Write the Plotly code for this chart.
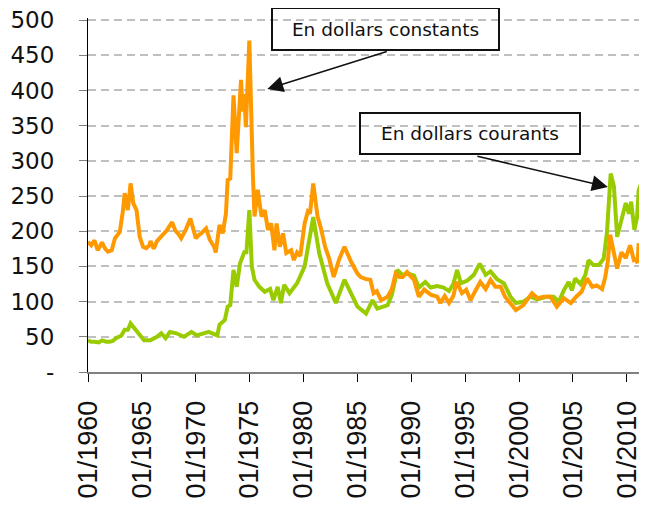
import plotly.graph_objects as go

# prix en dollars constants (orange) et courants (vert)
const_years = [1960.0, 1960.3, 1960.6, 1960.9, 1961.3, 1961.6, 1961.85, 1962.2, 1962.5, 1962.95,
               1963.25, 1963.4, 1963.7, 1963.95, 1964.2, 1964.5, 1964.8, 1965.1, 1965.4, 1965.7,
               1965.8, 1966.1, 1966.4, 1966.95, 1967.3, 1967.8, 1968.1, 1968.4, 1968.65, 1969.1,
               1969.5, 1969.7, 1970.0, 1970.3, 1970.5, 1970.96, 1971.3, 1971.7, 1971.85, 1972.2,
               1972.5, 1972.8, 1972.96, 1973.2, 1973.5, 1973.8, 1974.2, 1974.35, 1974.5, 1974.65,
               1974.97, 1975.3, 1975.45, 1975.75, 1976.1, 1976.4, 1976.7, 1977.0, 1977.3, 1977.5,
               1977.8, 1978.1, 1978.4, 1978.85, 1979.1, 1979.4, 1979.7, 1980.1, 1980.4, 1980.6,
               1980.9, 1981.3, 1981.6, 1982.0, 1982.4, 1982.8, 1983.3, 1983.8, 1984.4, 1985.0,
               1985.3, 1985.8, 1986.2, 1986.5, 1986.8, 1987.2, 1987.8, 1988.2, 1988.55, 1988.9,
               1989.2, 1989.6, 1990.25, 1990.7, 1991.2, 1991.8, 1992.4, 1992.7, 1993.1, 1993.5,
               1993.9, 1994.2, 1994.7, 1995.1, 1995.5, 1996.0, 1996.4, 1996.9, 1997.35, 1997.8,
               1998.3, 1998.7, 1999.2, 1999.7, 2000.4, 2001.2, 2001.7, 2002.3, 2002.9, 2003.5,
               2004.15, 2004.8, 2005.3, 2005.8, 2006.3, 2006.8, 2007.2, 2007.7, 2008.0, 2008.25,
               2008.45, 2008.8, 2009.1, 2009.5, 2009.9, 2010.3, 2010.65, 2010.8, 2011.0, 2011.1]
const_values = [185, 180, 187, 173, 184, 175, 171, 173, 190, 199,
                230, 254, 230, 268, 240, 230, 192, 178, 176, 180,
                186, 175, 186, 195, 201, 213, 201, 196, 190, 203,
                218, 207, 190, 195, 197, 204, 188, 178, 170, 209,
                197, 225, 273, 275, 393, 311, 415, 370, 395, 348,
                471, 280, 221, 259, 221, 230, 202, 211, 173, 211,
                178, 197, 169, 173, 159, 170, 165, 211, 228, 225,
                268, 221, 205, 178, 160, 135, 160, 178, 157, 140,
                135, 132, 131, 112, 115, 102, 107, 118, 140, 135,
                135, 142, 131, 107, 117, 110, 107, 98, 108, 98,
                108, 128, 112, 117, 102, 117, 128, 118, 131, 121,
                121, 107, 98, 88, 95, 112, 105, 107, 107, 93,
                105, 98, 107, 114, 133, 121, 123, 118, 135, 159,
                195, 170, 147, 170, 162, 180, 159, 160, 155, 183]

curr_years = [1960.0, 1960.3, 1960.6, 1961.0, 1961.3, 1961.7, 1962.0, 1962.3, 1962.6, 1963.1,
              1963.4, 1963.7, 1963.95, 1964.4, 1964.9, 1965.2, 1965.8, 1966.4, 1966.8, 1967.2,
              1967.6, 1968.2, 1968.9, 1969.6, 1970.1, 1970.7, 1971.2, 1972.0, 1972.2, 1972.7,
              1972.96, 1973.2, 1973.5, 1973.8, 1974.1, 1974.5, 1974.7, 1974.97, 1975.2, 1975.45,
              1975.9, 1976.4, 1976.9, 1977.2, 1977.6, 1977.9, 1978.2, 1978.7, 1979.1, 1979.4,
              1980.1, 1980.5, 1980.9, 1981.45, 1982.2, 1983.0, 1983.8, 1984.4, 1985.0, 1985.8,
              1986.4, 1986.85, 1987.8, 1988.2, 1988.7, 1989.2, 1989.7, 1990.25, 1990.7, 1991.3,
              1991.8, 1992.4, 1993.0, 1993.5, 1993.9, 1994.25, 1994.6, 1995.2, 1995.8, 1996.35,
              1996.9, 1997.35, 1997.95, 1998.6, 1999.0, 1999.2, 1999.7, 2000.4, 2001.05, 2001.7,
              2002.6, 2003.2, 2003.7, 2004.15, 2004.6, 2004.9, 2005.2, 2005.7, 2006.15, 2006.45,
              2006.9, 2007.4, 2007.85, 2008.15, 2008.5, 2008.8, 2009.1, 2009.6, 2009.9, 2010.2,
              2010.4, 2010.7, 2010.95, 2011.1, 2011.45]
curr_values = [45, 43, 43, 42, 45, 43, 43, 44, 48, 52,
               60, 60, 69, 60, 52, 45, 45, 50, 55, 48,
               57, 55, 50, 57, 52, 55, 57, 52, 67, 74,
               93, 95, 145, 121, 154, 170, 170, 230, 150, 131,
               121, 114, 118, 102, 121, 98, 124, 112, 121, 126,
               150, 187, 220, 169, 126, 98, 131, 112, 93, 83,
               102, 90, 95, 110, 145, 138, 140, 137, 120, 128,
               120, 122, 120, 115, 125, 145, 126, 130, 138, 154,
               138, 143, 132, 126, 111, 107, 98, 100, 107, 103,
               107, 107, 100, 116, 128, 116, 133, 125, 138, 159,
               152, 152, 161, 197, 282, 264, 192, 220, 240, 225,
               242, 202, 220, 258, 273]

x_tick_years = [1960, 1965, 1970, 1975, 1980, 1985, 1990, 1995, 2000, 2005, 2010]
x_tick_labels = ["01/1960", "01/1965", "01/1970", "01/1975", "01/1980", "01/1985",
                 "01/1990", "01/1995", "01/2000", "01/2005", "01/2010"]
y_tick_values = [0, 50, 100, 150, 200, 250, 300, 350, 400, 450, 500]
y_tick_labels = ["-", "50", "100", "150", "200", "250", "300", "350", "400", "450", "500"]

fig = go.Figure()
fig.add_trace(go.Scatter(x=curr_years, y=curr_values, mode="lines", name="En dollars courants",
                         line=dict(color="#99CC00", width=4)))
fig.add_trace(go.Scatter(x=const_years, y=const_values, mode="lines", name="En dollars constants",
                         line=dict(color="#FF9900", width=4)))

box_font = dict(family="DejaVu Sans", size=18.5, color="#111111")
fig.add_annotation(x=1987.6, y=487, xref="x", yref="y", text="En dollars constants",
                   showarrow=False, font=box_font, width=225, height=40,
                   bordercolor="#111111", borderwidth=2, borderpad=0)
fig.add_annotation(x=1995.44, y=339, xref="x", yref="y", text="En dollars courants",
                   showarrow=False, font=box_font, width=218, height=39,
                   bordercolor="#111111", borderwidth=2, borderpad=0)
# flèches
fig.add_annotation(x=1976.64, y=402, xref="x", yref="y", text="", showarrow=True,
                   ax=121, ay=-38, arrowhead=2, arrowsize=2, arrowwidth=1.6, arrowcolor="#111111")
fig.add_annotation(x=2008.24, y=263, xref="x", yref="y", text="", showarrow=True,
                   ax=-132, ay=-31, arrowhead=2, arrowsize=2, arrowwidth=1.6, arrowcolor="#111111")

fig.update_xaxes(range=[1960, 2011.5], tickvals=x_tick_years, ticktext=x_tick_labels,
                 tickangle=-90, ticks="outside", ticklen=8, tickcolor="#000000",
                 tickfont=dict(family="Liberation Sans", size=27, color="#111111"),
                 showline=True, linecolor="#808080", linewidth=2, showgrid=False, zeroline=False,
                 ticklabelstandoff=8, automargin=False, ticklabeloverflow="allow")
fig.update_yaxes(range=[0, 503], tickvals=y_tick_values, ticktext=y_tick_labels,
                 ticks="outside", ticklen=8, tickcolor="#808080",
                 tickfont=dict(family="DejaVu Sans", size=23, color="#111111"),
                 showline=True, linecolor="#000000", linewidth=1.2,
                 showgrid=True, gridcolor="#C0C0C0", gridwidth=1.5, griddash="8px,5px",
                 zeroline=False, ticklabelstandoff=20, automargin=False,
                 ticklabeloverflow="allow")

# la page ajoute 8 px de marge autour du graphique
fig.update_layout(width=639, height=501, margin=dict(l=80, r=4, t=10, b=137),
                  plot_bgcolor="white", paper_bgcolor="white", showlegend=False)

fig.write_html("out.html")
